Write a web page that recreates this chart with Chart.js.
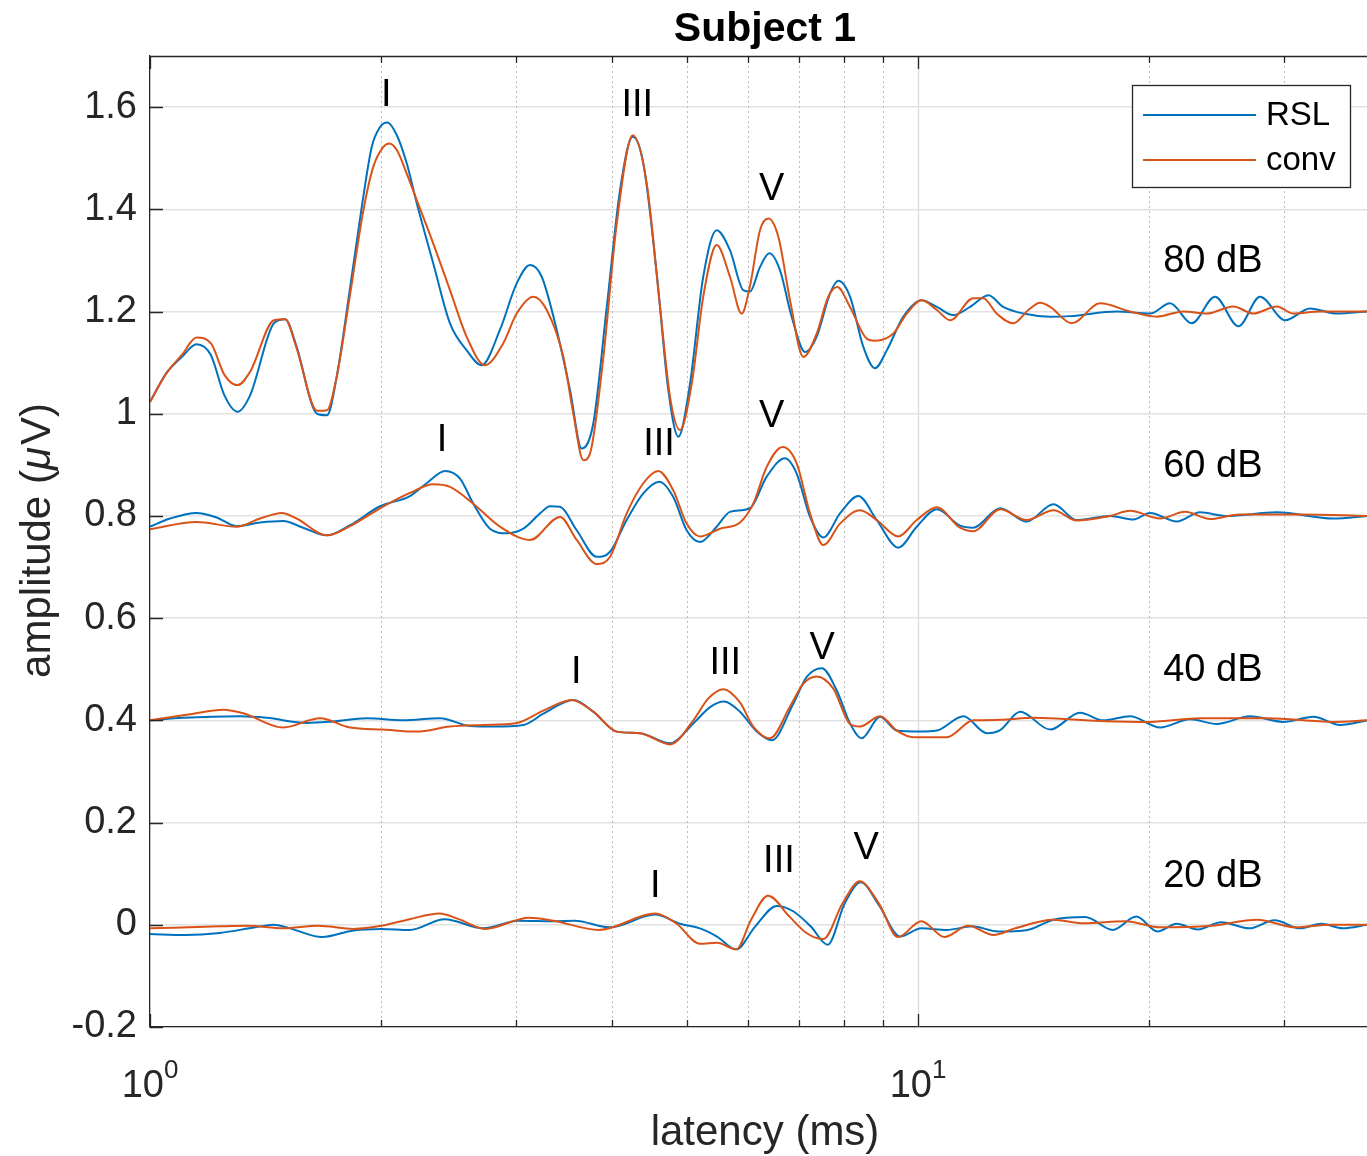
<!DOCTYPE html>
<html>
<head>
<meta charset="utf-8">
<script src="https://cdn.jsdelivr.net/npm/chart.js@4.4.1/dist/chart.umd.min.js"></script>
<style>
  html, body { margin: 0; padding: 0; background: #fff; }
  #wrap { width: 1367px; height: 1156px; }
</style>
</head>
<body>
<div id="wrap"><canvas id="abr" width="1367" height="1156"></canvas></div>
<script>
// latency (ms) / amplitude (uV), one pair of arrays per trace
const rsl80Lat = [1.00, 1.05, 1.10, 1.15, 1.20, 1.25, 1.30, 1.35, 1.45, 1.50, 1.55, 1.65, 1.70, 1.75, 1.82, 1.887, 1.944, 1.993, 2.037, 2.096, 2.159, 2.225, 2.338, 2.458, 2.585, 2.703, 2.855, 3.002, 3.125, 3.236, 3.385, 3.523, 3.648, 3.777, 3.933, 4.093, 4.252, 4.389, 4.568, 4.730, 4.874, 5.048, 5.252, 5.468, 5.690, 5.921, 6.042, 6.226, 6.402, 6.610, 6.846, 7.127, 7.380, 7.680, 7.874, 8.155, 8.487, 8.790, 9.105, 9.570, 10.11, 10.58, 11.11, 11.69, 12.35, 12.91, 13.71, 14.86, 15.77, 18.14, 20.05, 21.29, 22.72, 24.36, 26.13, 27.88, 30.06, 32.39, 35.09, 38.42];
const rsl80Amp = [1.023, 1.079, 1.111, 1.136, 1.115, 1.036, 1.004, 1.036, 1.177, 1.185, 1.134, 1.000, 0.997, 1.072, 1.242, 1.405, 1.522, 1.561, 1.570, 1.545, 1.490, 1.412, 1.294, 1.177, 1.124, 1.095, 1.164, 1.255, 1.291, 1.268, 1.164, 1.046, 0.932, 0.981, 1.209, 1.438, 1.542, 1.490, 1.275, 1.046, 0.955, 1.059, 1.268, 1.359, 1.320, 1.242, 1.239, 1.287, 1.314, 1.281, 1.190, 1.121, 1.151, 1.235, 1.260, 1.229, 1.131, 1.089, 1.124, 1.190, 1.222, 1.209, 1.193, 1.209, 1.232, 1.209, 1.196, 1.190, 1.191, 1.200, 1.196, 1.216, 1.177, 1.229, 1.171, 1.229, 1.183, 1.206, 1.196, 1.200];

const conv80Lat = [1.00, 1.05, 1.10, 1.15, 1.20, 1.25, 1.30, 1.35, 1.45, 1.50, 1.55, 1.65, 1.70, 1.75, 1.82, 1.896, 1.953, 2.013, 2.049, 2.096, 2.159, 2.225, 2.338, 2.458, 2.585, 2.730, 2.884, 3.002, 3.156, 3.285, 3.453, 3.558, 3.666, 3.740, 3.893, 4.052, 4.252, 4.433, 4.614, 4.754, 4.899, 5.074, 5.252, 5.468, 5.690, 5.893, 6.042, 6.226, 6.384, 6.579, 6.813, 7.091, 7.380, 7.641, 7.850, 8.155, 8.574, 8.790, 9.286, 9.668, 10.11, 10.58, 11.01, 11.80, 12.16, 12.66, 13.31, 13.92, 14.42, 14.86, 15.85, 17.26, 18.88, 20.46, 22.15, 23.76, 25.73, 27.33, 29.31, 30.81, 33.38, 38.42];
const conv80Amp = [1.023, 1.079, 1.115, 1.149, 1.138, 1.076, 1.056, 1.082, 1.183, 1.185, 1.131, 1.006, 1.007, 1.072, 1.229, 1.398, 1.483, 1.522, 1.529, 1.516, 1.470, 1.418, 1.333, 1.242, 1.150, 1.095, 1.138, 1.196, 1.229, 1.203, 1.111, 1.000, 0.909, 0.922, 1.111, 1.372, 1.545, 1.451, 1.209, 1.033, 0.968, 1.059, 1.229, 1.330, 1.268, 1.196, 1.250, 1.359, 1.382, 1.346, 1.222, 1.111, 1.157, 1.229, 1.248, 1.209, 1.147, 1.143, 1.157, 1.196, 1.222, 1.203, 1.183, 1.226, 1.226, 1.196, 1.177, 1.203, 1.217, 1.209, 1.177, 1.216, 1.200, 1.190, 1.200, 1.196, 1.210, 1.196, 1.210, 1.196, 1.200, 1.200];

const rsl60Lat = [1.00, 1.062, 1.150, 1.221, 1.297, 1.391, 1.491, 1.583, 1.699, 1.822, 1.993, 2.180, 2.292, 2.422, 2.533, 2.636, 2.771, 2.913, 3.063, 3.220, 3.318, 3.419, 3.594, 3.816, 3.972, 4.175, 4.388, 4.604, 4.801, 4.997, 5.200, 5.468, 5.690, 6.042, 6.353, 6.711, 6.950, 7.234, 7.530, 7.915, 8.361, 8.836, 9.426, 9.961, 10.58, 11.34, 11.80, 12.79, 13.85, 15.01, 16.09, 17.78, 19.07, 20.05, 21.72, 23.29, 25.23, 29.31, 34.73, 38.42];
const rsl60Amp = [0.779, 0.795, 0.806, 0.797, 0.780, 0.787, 0.790, 0.777, 0.762, 0.782, 0.819, 0.839, 0.864, 0.888, 0.873, 0.824, 0.775, 0.766, 0.775, 0.805, 0.819, 0.818, 0.772, 0.720, 0.730, 0.792, 0.844, 0.867, 0.837, 0.772, 0.749, 0.779, 0.808, 0.815, 0.877, 0.913, 0.883, 0.798, 0.758, 0.805, 0.839, 0.792, 0.738, 0.779, 0.813, 0.781, 0.777, 0.815, 0.789, 0.823, 0.792, 0.800, 0.793, 0.806, 0.789, 0.807, 0.800, 0.807, 0.795, 0.800];

const conv60Lat = [1.00, 1.150, 1.297, 1.391, 1.485, 1.552, 1.699, 1.822, 1.993, 2.180, 2.338, 2.458, 2.636, 2.855, 3.125, 3.419, 3.594, 3.816, 3.972, 4.175, 4.388, 4.590, 4.801, 4.997, 5.200, 5.523, 5.864, 6.102, 6.353, 6.665, 6.950, 7.234, 7.530, 7.915, 8.404, 8.836, 9.426, 9.961, 10.58, 11.34, 11.80, 12.79, 13.85, 15.01, 16.09, 17.78, 18.88, 20.66, 22.27, 24.00, 26.26, 31.44, 38.42];
const conv60Amp = [0.774, 0.788, 0.779, 0.795, 0.806, 0.795, 0.762, 0.780, 0.815, 0.845, 0.862, 0.857, 0.824, 0.779, 0.753, 0.798, 0.753, 0.706, 0.720, 0.805, 0.864, 0.888, 0.850, 0.785, 0.760, 0.775, 0.787, 0.824, 0.896, 0.935, 0.903, 0.805, 0.743, 0.785, 0.811, 0.792, 0.760, 0.792, 0.817, 0.777, 0.770, 0.813, 0.792, 0.811, 0.791, 0.800, 0.810, 0.795, 0.808, 0.794, 0.803, 0.803, 0.800];

const rsl40Lat = [1.00, 1.105, 1.310, 1.419, 1.600, 1.733, 1.915, 2.137, 2.386, 2.610, 2.799, 3.063, 3.252, 3.558, 3.777, 4.052, 4.345, 4.754, 5.098, 5.361, 5.590, 5.863, 6.166, 6.449, 6.882, 7.163, 7.494, 7.835, 8.155, 8.447, 8.924, 9.382, 10.06, 10.58, 11.46, 12.29, 12.79, 13.58, 14.86, 16.25, 17.43, 18.88, 20.66, 22.61, 24.48, 27.06, 29.88, 32.72, 35.44, 38.42];
const rsl40Amp = [0.400, 0.405, 0.408, 0.405, 0.395, 0.398, 0.404, 0.400, 0.404, 0.389, 0.388, 0.391, 0.413, 0.440, 0.417, 0.378, 0.375, 0.355, 0.394, 0.426, 0.437, 0.417, 0.378, 0.361, 0.433, 0.485, 0.502, 0.459, 0.394, 0.365, 0.407, 0.380, 0.378, 0.380, 0.408, 0.375, 0.381, 0.417, 0.382, 0.415, 0.400, 0.408, 0.386, 0.402, 0.393, 0.408, 0.397, 0.407, 0.391, 0.400];

const conv40Lat = [1.00, 1.128, 1.246, 1.323, 1.491, 1.665, 1.822, 2.013, 2.225, 2.458, 2.717, 3.002, 3.252, 3.541, 3.777, 4.052, 4.345, 4.754, 5.098, 5.333, 5.578, 5.863, 6.102, 6.417, 6.813, 7.091, 7.380, 7.757, 8.155, 8.404, 8.924, 9.382, 9.861, 10.90, 11.80, 12.79, 14.13, 17.26, 20.05, 23.29, 28.44, 34.73, 38.42];
const conv40Amp = [0.400, 0.412, 0.421, 0.414, 0.386, 0.404, 0.386, 0.382, 0.378, 0.388, 0.391, 0.395, 0.419, 0.440, 0.417, 0.378, 0.375, 0.353, 0.400, 0.443, 0.461, 0.435, 0.388, 0.365, 0.427, 0.472, 0.486, 0.462, 0.393, 0.388, 0.408, 0.380, 0.367, 0.367, 0.400, 0.401, 0.405, 0.399, 0.397, 0.404, 0.404, 0.397, 0.400];

const rsl20Lat = [1.00, 1.111, 1.233, 1.370, 1.447, 1.521, 1.675, 1.841, 2.003, 2.178, 2.419, 2.717, 3.017, 3.353, 3.572, 3.966, 4.549, 4.899, 5.200, 5.473, 5.798, 6.140, 6.546, 6.887, 7.247, 7.627, 8.028, 8.428, 8.890, 9.476, 10.10, 10.90, 11.77, 12.71, 13.89, 15.00, 16.51, 17.93, 19.24, 20.50, 21.71, 23.14, 24.83, 26.97, 29.12, 31.44, 33.50, 35.72, 38.42];
const rsl20Amp = [-0.018, -0.020, -0.016, -0.005, 0.000, -0.007, -0.024, -0.011, -0.008, -0.010, 0.011, -0.007, 0.008, 0.007, 0.008, -0.005, 0.020, 0.002, -0.007, -0.023, -0.048, -0.003, 0.037, 0.026, -0.003, -0.039, 0.042, 0.083, 0.039, -0.023, -0.007, -0.010, -0.003, -0.013, -0.010, 0.010, 0.015, -0.010, 0.016, -0.013, 0.002, -0.009, 0.005, -0.007, 0.009, -0.007, 0.002, -0.007, 0.000];

const conv20Lat = [1.00, 1.233, 1.341, 1.490, 1.655, 1.841, 2.003, 2.178, 2.382, 2.524, 2.730, 3.116, 3.353, 3.842, 4.549, 4.841, 5.200, 5.473, 5.798, 6.062, 6.378, 6.802, 7.157, 7.530, 7.976, 8.395, 8.890, 9.415, 10.10, 10.83, 11.62, 12.54, 13.37, 15.00, 16.40, 18.63, 20.63, 24.04, 27.66, 31.03, 34.40, 38.42];
const conv20Amp = [-0.007, -0.003, -0.002, -0.007, -0.002, -0.008, -0.002, 0.011, 0.022, 0.011, -0.008, 0.014, 0.008, -0.010, 0.022, 0.003, -0.037, -0.035, -0.048, 0.010, 0.057, 0.016, -0.016, -0.028, 0.042, 0.085, 0.042, -0.024, 0.007, -0.024, -0.002, -0.020, -0.007, 0.010, 0.003, 0.007, -0.005, -0.002, 0.010, -0.005, 0.000, 0.000];

// axis ticks
const yTicks = [-0.2, 0, 0.2, 0.4, 0.6, 0.8, 1.0, 1.2, 1.4, 1.6];
const xMajor = [1, 10];
const xMinor = [2, 3, 4, 5, 6, 7, 8, 9, 20, 30];

// text annotations (latency, amplitude)
const levelNames = ['80 dB', '60 dB', '40 dB', '20 dB'];
const levelAmp = [1.297, 0.897, 0.498, 0.095];
const levelLat = 24.2;
const waveNames = ['I', 'III', 'V', 'I', 'III', 'V', 'I', 'III', 'V', 'I', 'III', 'V'];
const waveLat = [2.03, 4.31, 6.45, 2.40, 4.60, 6.45, 3.59, 5.61, 7.50, 4.55, 6.59, 8.56];
const waveAmp = [1.623, 1.604, 1.438, 0.948, 0.939, 0.995, 0.494, 0.512, 0.541, 0.074, 0.123, 0.150];

const BLUE = '#0072BD';
const ORANGE = '#D95319';
const INK = '#262626';
const FONT = '"Liberation Sans", Arial, Helvetica, sans-serif';

const toPoints = (lat, amp) => lat.map((t, i) => ({ x: t, y: amp[i] }));

const traces = [
    { name: 'RSL', lat: rsl80Lat, amp: rsl80Amp },
    { name: 'conv', lat: conv80Lat, amp: conv80Amp },
    { name: 'RSL', lat: rsl60Lat, amp: rsl60Amp },
    { name: 'conv', lat: conv60Lat, amp: conv60Amp },
    { name: 'RSL', lat: rsl40Lat, amp: rsl40Amp },
    { name: 'conv', lat: conv40Lat, amp: conv40Amp },
    { name: 'RSL', lat: rsl20Lat, amp: rsl20Amp },
    { name: 'conv', lat: conv20Lat, amp: conv20Amp }
];

const datasets = traces.map(tr => ({
    label: tr.name,
    data: toPoints(tr.lat, tr.amp),
    borderColor: tr.name === 'RSL' ? BLUE : ORANGE,
    borderWidth: 2,
    pointRadius: 0,
    fill: false,
    cubicInterpolationMode: 'monotone',
    order: tr.name === 'RSL' ? 1 : 0   // conv drawn on top, as in the original
}));

// matlab-like decorations: dotted minor grid, inside ticks, box, labels, legend
const matlabLook = {
    id: 'matlabLook',
    beforeDatasetsDraw(chart) {
        const { ctx, chartArea: a, scales: { x } } = chart;
        ctx.save();
        [...xMinor, 10].forEach(v => {
            const px = Math.round(x.getPixelForValue(v)) + 0.5;
            if (v === 10) {
                ctx.setLineDash([]);
                ctx.strokeStyle = '#dedede';
                ctx.lineWidth = 1.5;
            } else {
                ctx.setLineDash([2, 3]);
                ctx.strokeStyle = '#bdbdbd';
                ctx.lineWidth = 1;
            }
            ctx.beginPath();
            ctx.moveTo(px, a.top);
            ctx.lineTo(px, a.bottom);
            ctx.stroke();
        });
        ctx.restore();
    },
    afterDatasetsDraw(chart) {
        const { ctx, chartArea: a, scales: { x, y } } = chart;
        ctx.save();

        // box top + inside ticks
        ctx.strokeStyle = INK;
        ctx.lineWidth = 1.3;
        ctx.beginPath();
        ctx.moveTo(a.left, a.top + 0.5);
        ctx.lineTo(a.right, a.top + 0.5);
        ctx.stroke();

        ctx.beginPath();
        yTicks.forEach(v => {
            const py = Math.round(y.getPixelForValue(v)) + 0.5;
            ctx.moveTo(a.left, py);
            ctx.lineTo(a.left + 13, py);
        });
        xMajor.forEach(v => {
            const px = Math.round(x.getPixelForValue(v)) + 0.5;
            ctx.moveTo(px, a.bottom); ctx.lineTo(px, a.bottom - 13);
            ctx.moveTo(px, a.top); ctx.lineTo(px, a.top + 13);
        });
        xMinor.forEach(v => {
            const px = Math.round(x.getPixelForValue(v)) + 0.5;
            ctx.moveTo(px, a.bottom); ctx.lineTo(px, a.bottom - 7);
            ctx.moveTo(px, a.top); ctx.lineTo(px, a.top + 7);
        });
        ctx.stroke();

        ctx.fillStyle = '#000';
        ctx.textAlign = 'center';
        ctx.textBaseline = 'middle';
        ctx.font = `38px ${FONT}`;

        // wave labels and level labels
        waveNames.forEach((w, i) => {
            ctx.fillText(w, x.getPixelForValue(waveLat[i]), y.getPixelForValue(waveAmp[i]));
        });
        levelNames.forEach((n, i) => {
            ctx.fillText(n, x.getPixelForValue(levelLat), y.getPixelForValue(levelAmp[i]));
        });

        // x tick labels as powers of ten
        ctx.fillStyle = INK;
        ctx.textBaseline = 'alphabetic';
        ctx.textAlign = 'left';
        xMajor.forEach(v => {
            const px = x.getPixelForValue(v);
            const sup = String(Math.round(Math.log10(v)));
            ctx.font = `38px ${FONT}`;
            const wb = ctx.measureText('10').width;
            ctx.font = `26px ${FONT}`;
            const ws = ctx.measureText(sup).width;
            const sx = px - (wb + ws) / 2;
            ctx.font = `38px ${FONT}`;
            ctx.fillText('10', sx, a.bottom + 70);
            ctx.font = `26px ${FONT}`;
            ctx.fillText(sup, sx + wb, a.bottom + 51);
        });

        // axis labels
        const midX = 765;
        ctx.textAlign = 'center';
        ctx.textBaseline = 'middle';
        ctx.font = `42px ${FONT}`;
        ctx.fillText('latency (ms)', midX, 1133);

        ctx.save();
        ctx.translate(38, (a.top + a.bottom) / 2);
        ctx.rotate(-Math.PI / 2);
        ctx.textAlign = 'left';
        const p1 = 'amplitude (', p2 = '\u03BC', p3 = 'V)';
        ctx.font = `42px ${FONT}`;
        const w1 = ctx.measureText(p1).width, w3 = ctx.measureText(p3).width;
        ctx.font = `italic 42px ${FONT}`;
        const w2 = ctx.measureText(p2).width;
        const sx = -(w1 + w2 + w3) / 2;
        ctx.font = `42px ${FONT}`;
        ctx.fillText(p1, sx, 0);
        ctx.font = `italic 42px ${FONT}`;
        ctx.fillText(p2, sx + w1, 0);
        ctx.font = `42px ${FONT}`;
        ctx.fillText(p3, sx + w1 + w2 + 2, 0);
        ctx.restore();

        // title
        ctx.fillStyle = '#000';
        ctx.font = `bold 41px ${FONT}`;
        ctx.fillText('Subject 1', midX, 30);

        // legend
        const lg = { left: 1132, top: 85, w: 218, h: 102 };
        ctx.fillStyle = '#fff';
        ctx.fillRect(lg.left, lg.top, lg.w, lg.h);
        ctx.strokeStyle = INK;
        ctx.lineWidth = 1.3;
        ctx.strokeRect(lg.left + 0.5, lg.top + 0.5, lg.w, lg.h);
        [['RSL', BLUE, 115], ['conv', ORANGE, 160]].forEach(([txt, col, ly]) => {
            ctx.strokeStyle = col;
            ctx.lineWidth = 2;
            ctx.beginPath();
            ctx.moveTo(lg.left + 11, ly);
            ctx.lineTo(lg.left + 124, ly);
            ctx.stroke();
            ctx.fillStyle = '#000';
            ctx.textAlign = 'left';
            ctx.font = `33px ${FONT}`;
            ctx.fillText(txt, lg.left + 134, ly + 1);
        });

        ctx.restore();
    }
};

new Chart(document.getElementById('abr'), {
    type: 'line',
    data: { datasets },
    options: {
        responsive: false,
        animation: false,
        events: [],
        layout: { padding: { top: 56, left: 0, right: 0, bottom: 0 } },
        plugins: {
            legend: { display: false },
            tooltip: { enabled: false },
            title: { display: false }
        },
        scales: {
            x: {
                type: 'logarithmic',
                min: 1,
                max: 38.42,
                afterBuildTicks: s => { s.ticks = [...xMajor, ...xMinor].sort((p, q) => p - q).map(v => ({ value: v })); },
                afterFit: s => { s.height = 129; },
                ticks: { display: false },
                grid: { display: false, drawTicks: false },
                border: { display: true, color: INK, width: 1.3 }
            },
            y: {
                type: 'linear',
                min: -0.2,
                max: 1.7,
                afterBuildTicks: s => { s.ticks = yTicks.map(v => ({ value: v })); },
                afterFit: s => { s.width = 150; },
                ticks: {
                    color: INK,
                    padding: 13,
                    font: { family: FONT, size: 38 },
                    callback: v => String(Math.round(v * 10) / 10)
                },
                grid: { color: '#e2e2e2', lineWidth: 1.5, drawTicks: false },
                border: { display: true, color: INK, width: 1.3 }
            }
        }
    },
    plugins: [matlabLook]
});
</script>
</body>
</html>
